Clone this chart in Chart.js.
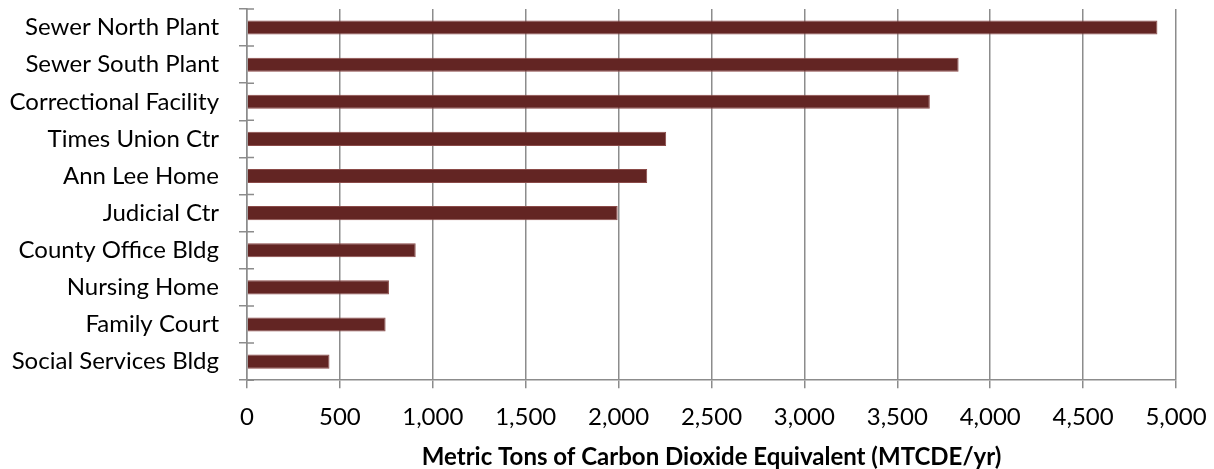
<!DOCTYPE html>
<html>
<head>
<meta charset="utf-8">
<script src="https://cdn.jsdelivr.net/npm/chart.js@4"></script>
<style>
  html, body { margin: 0; padding: 0; background: #ffffff; }
  #wrap { width: 1214px; height: 469px; }
</style>
</head>
<body>
<div id="wrap"><canvas id="grafico" width="1214" height="469"></canvas></div>
<script>
// Dados
const categorias = ['Sewer North Plant', 'Sewer South Plant', 'Correctional Facility', 'Times Union Ctr',
    'Ann Lee Home', 'Judicial Ctr', 'County Office Bldg', 'Nursing Home', 'Family Court', 'Social Services Bldg'];
const emissoes = [4900, 3830, 3675, 2256, 2154, 1995, 908, 764, 746, 444];
const ticksX = [0, 500, 1000, 1500, 2000, 2500, 3000, 3500, 4000, 4500, 5000];
const tituloX = 'Metric Tons of Carbon Dioxide Equivalent (MTCDE/yr)';

const corBarra = '#632523';
const corGrade = '#8c8c8c';
const fonte = 'Lato, "Open Sans", sans-serif';

// marcas do eixo y cruzando a linha do eixo (para dentro da área do gráfico)
const marcasY = {
    id: 'marcasY',
    afterDatasetsDraw(chart) {
        const y = chart.scales.y;
        const ctx = chart.ctx;
        ctx.save();
        ctx.strokeStyle = corGrade;
        ctx.lineWidth = 1.5;
        ctx.beginPath();
        for (let i = 0; i <= categorias.length; i++) {
            const py = y.top + (y.bottom - y.top) * i / categorias.length;
            ctx.moveTo(y.right, py);
            ctx.lineTo(y.right + 7, py);
        }
        ctx.stroke();
        ctx.restore();
    }
};

const data = {
    labels: categorias,
    datasets: [
        {
            data: emissoes,
            backgroundColor: corBarra,
            borderColor: '#8a4a48',
            borderWidth: 1,
            barPercentage: 0.38,
            categoryPercentage: 1.0,
        }
    ]
};

const config = {
    type: 'bar',
    data: data,
    plugins: [marcasY],
    options: {
        indexAxis: 'y',
        responsive: false,
        animation: false,
        devicePixelRatio: 1,
        layout: { padding: { top: 9, right: 38, bottom: 0, left: 0 } },
        plugins: {
            legend: { display: false },
            tooltip: { enabled: false },
        },
        scales: {
            x: {
                min: ticksX[0],
                max: ticksX[ticksX.length - 1],
                afterBuildTicks: (scale) => { scale.ticks = ticksX.map(v => ({ value: v })); },
                afterFit: (scale) => {
                    scale.paddingLeft = 0;
                    scale.paddingRight = 0;
                },
                ticks: {
                    color: '#000000',
                    font: { family: fonte, size: 24 },
                    padding: 15,
                    maxRotation: 0,
                    callback: (v) => v.toLocaleString('en-US'),
                },
                grid: { color: corGrade, lineWidth: 1.5, tickLength: 8 },
                border: { color: corGrade, width: 1.5 },
                title: {
                    display: true,
                    text: tituloX,
                    color: '#000000',
                    font: { family: fonte, size: 24, weight: 'bold', lineHeight: 1 },
                    padding: { top: -2, bottom: 0 },
                },
            },
            y: {
                afterFit: (scale) => {
                    scale.width = 247;
                    scale.paddingTop = 0;
                    scale.paddingBottom = 0;
                },
                ticks: {
                    color: '#000000',
                    font: { family: fonte, size: 24 },
                    padding: 20,
                },
                grid: { drawOnChartArea: false, color: corGrade, lineWidth: 1.5, tickLength: 8 },
                border: { color: corGrade, width: 1.5 },
            },
        },
    },
};

new Chart(document.getElementById('grafico'), config);
</script>
</body>
</html>
